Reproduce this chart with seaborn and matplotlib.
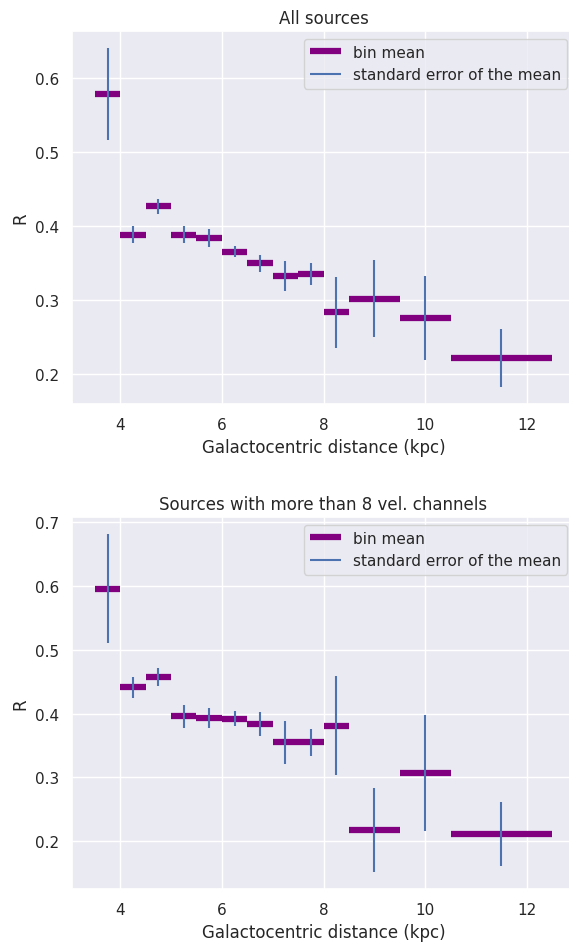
import numpy as np
import matplotlib
matplotlib.use("Agg")
import matplotlib.pyplot as plt
import seaborn as sns

sns.set_theme(style="darkgrid")

# bin edges in galactocentric distance (kpc)
bin_edges = [3.5, 4.0, 4.5, 5.0, 5.5, 6.0, 6.5, 7.0, 7.5, 8.0, 8.5, 9.5, 10.5, 12.5]

# all sources
all_mean = [0.578, 0.388, 0.426, 0.388, 0.383, 0.365, 0.349, 0.332, 0.335, 0.283, 0.301, 0.275, 0.221]
all_sem = [0.062, 0.011, 0.010, 0.011, 0.012, 0.008, 0.011, 0.020, 0.015, 0.048, 0.052, 0.057, 0.039]

# sources with more than 8 velocity channels
sel_mean = [0.596, 0.441, 0.457, 0.396, 0.393, 0.392, 0.384, 0.355, 0.355, 0.381, 0.217, 0.306, 0.211]
sel_sem = [0.086, 0.016, 0.014, 0.018, 0.016, 0.012, 0.019, 0.034, 0.021, 0.078, 0.066, 0.091, 0.050]

titles = ["All sources", "Sources with more than 8 vel. channels"]

edges = np.array(bin_edges)
lo, hi = edges[:-1], edges[1:]
centers = (lo + hi) / 2

fig = plt.figure(figsize=(5.69, 9.45), dpi=100)
ax_top = fig.add_axes([72 / 569, 1 - 405 / 945, 503 / 569, 373 / 945])
ax_bot = fig.add_axes([72 / 569, 1 - 890 / 945, 503 / 569, 372 / 945])

for ax, mean, sem, title in zip([ax_top, ax_bot], [all_mean, sel_mean], [all_sem, sel_sem], titles):
    mean = np.array(mean)
    sem = np.array(sem)
    ax.hlines(mean, lo, hi, color="purple", linewidth=4.5, label="bin mean")
    ax.vlines(centers, mean - sem, mean + sem, color="C0", linewidth=1.5,
              label="standard error of the mean")
    ax.set_title(title)
    ax.set_xlabel("Galactocentric distance (kpc)")
    ax.set_ylabel("R")
    ax.legend(loc="upper right")

fig.savefig("out.png", dpi=100)
